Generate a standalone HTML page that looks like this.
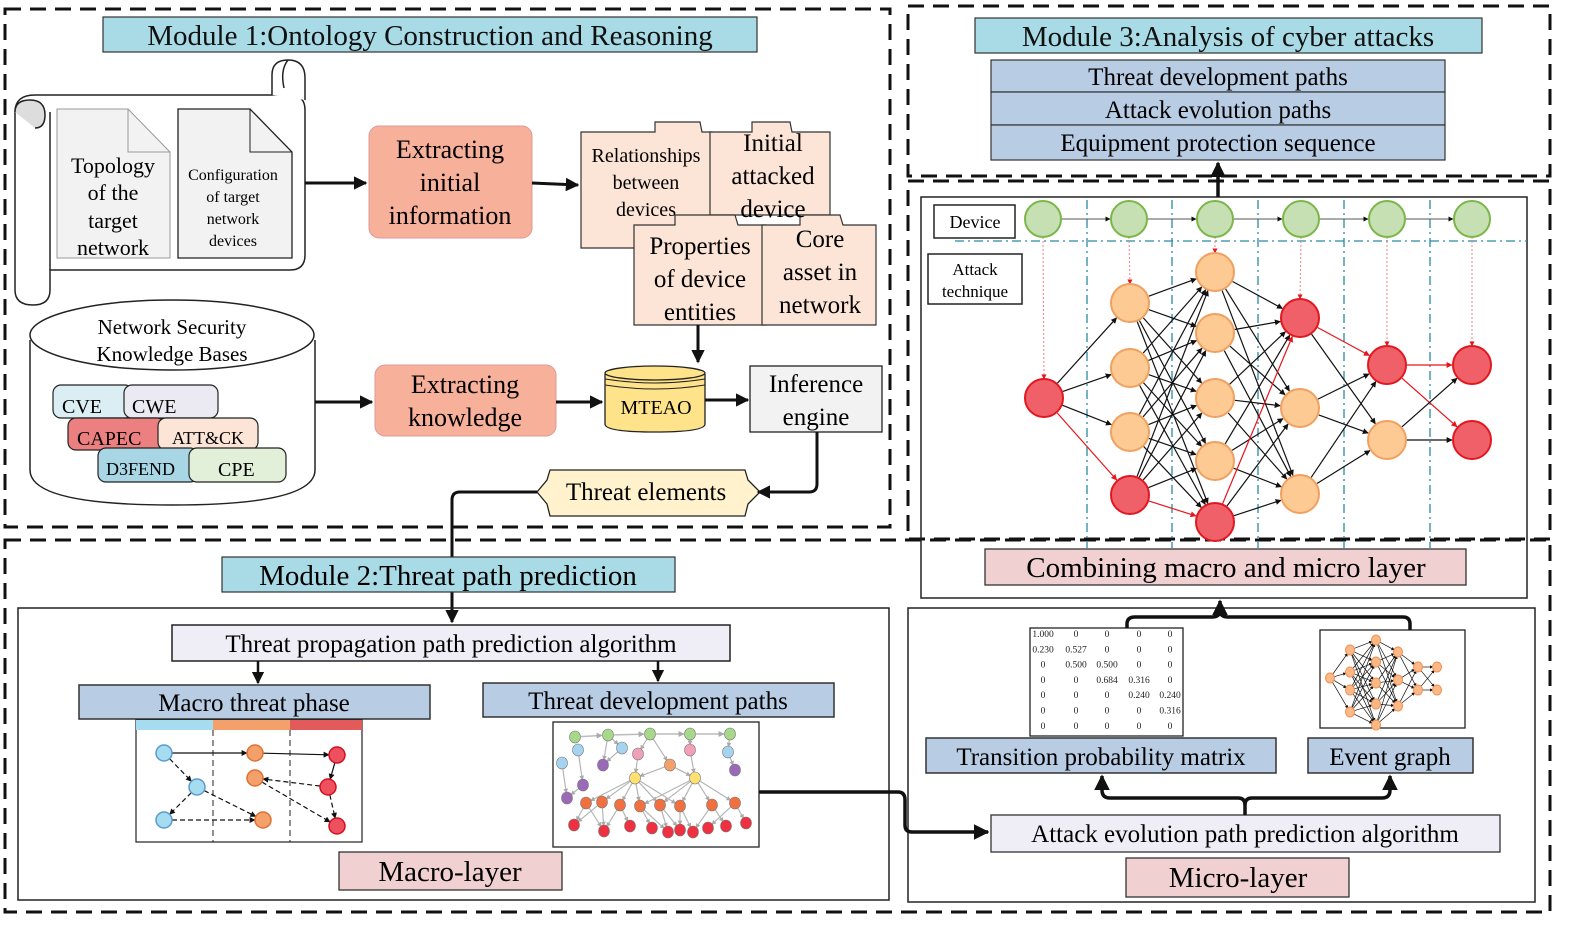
<!DOCTYPE html>
<html><head><meta charset="utf-8"><style>
html,body{margin:0;padding:0;background:#fff;}
svg{display:block;font-family:"Liberation Serif",serif;}
</style></head><body>
<svg id="s" width="1587" height="927" viewBox="0 0 1587 927" xmlns="http://www.w3.org/2000/svg">
<defs>
<marker id="ah" viewBox="0 0 10 10" refX="9" refY="5" markerWidth="4.5" markerHeight="4.5" orient="auto"><path d="M0,0L10,5L0,10z" fill="#111"/></marker>
<marker id="ahs" viewBox="0 0 10 10" refX="9" refY="5" markerWidth="5" markerHeight="5" orient="auto"><path d="M0,0L10,5L0,10z" fill="#111"/></marker>
<marker id="ahr" viewBox="0 0 10 10" refX="9" refY="5" markerWidth="5" markerHeight="5" orient="auto"><path d="M0,0L10,5L0,10z" fill="#e8141c"/></marker>
<marker id="ahg" viewBox="0 0 10 10" refX="9" refY="5" markerWidth="4" markerHeight="4" orient="auto"><path d="M0,0L10,5L0,10z" fill="#aaa"/></marker>
</defs>
<g fill="none" stroke="#111" stroke-width="3" stroke-dasharray="16,9">
<rect x="5" y="9" width="885" height="518"/>
<rect x="908" y="6" width="642" height="170"/>
<rect x="908" y="181" width="642" height="358"/>
<path d="M5,540H1550V912H5Z"/>
</g>
<g stroke="#333" stroke-width="1.2">
<rect x="103" y="17" width="654" height="35" fill="#a9dbe6"/>
<rect x="975" y="18" width="507" height="35" fill="#a9dbe6"/>
</g>
<g font-size="29" text-anchor="middle" fill="#111">
<text x="430" y="45">Module 1:Ontology Construction and Reasoning</text>
<text x="1228" y="46">Module 3:Analysis of cyber attacks</text>
</g>
<g stroke="#333" stroke-width="1.2" fill="#b8cce4">
<rect x="991" y="60" width="454" height="32"/><rect x="991" y="92" width="454" height="33"/><rect x="991" y="125" width="454" height="35"/>
</g>
<g font-size="25" text-anchor="middle"><text x="1218" y="85">Threat development paths</text><text x="1218" y="118">Attack evolution paths</text><text x="1218" y="151">Equipment protection sequence</text></g>
<g stroke="#222" stroke-width="1.5" fill="#fff">
<path d="M35,95 H290 Q305,95 305,110 V255 Q305,270 290,270 H50 V290 Q50,305 33,305 Q15,305 15,290 V112 Q15,95 35,95Z"/>
<path d="M272,95 V75 Q272,60 288,60 Q305,60 305,78 V100"/>
<path d="M288,60 Q280,70 284,88" fill="none"/>
<path d="M15,112 Q15,100 30,100 Q45,100 45,115 Q45,128 35,128" fill="#ddd"/>
<path d="M50,112 V270" fill="none"/>
</g>
<path d="M57,109H128L170,152V258H57Z" fill="#f2f2f2" stroke="#999"/>
<path d="M128,109V152H170" fill="none" stroke="#999"/>
<path d="M178,109H250L292,152V258H178Z" fill="#f2f2f2" stroke="#222" stroke-width="1.3"/>
<path d="M250,109V152H292" fill="none" stroke="#222"/>
<g text-anchor="middle" font-size="22"><text x="113" y="173">Topology</text><text x="113" y="200">of the</text><text x="113" y="228">target</text><text x="113" y="255">network</text></g>
<g text-anchor="middle" font-size="16"><text x="233" y="180">Configuration</text><text x="233" y="202">of target</text><text x="233" y="224">network</text><text x="233" y="246">devices</text></g>
<rect x="369" y="126" width="163" height="112" rx="10" fill="#f7b09a" stroke="#d99" />
<g text-anchor="middle" font-size="26"><text x="450" y="158">Extracting</text><text x="450" y="191">initial</text><text x="450" y="224">information</text></g>
<g stroke="#333" stroke-width="1.2" fill="#fce4d6">
<path d="M581,132H655V122H700L702,132H712V248H581Z"/>
<path d="M710,132H752V122H790L792,132H830V215H710Z"/>
<path d="M634,225H675V215H735L738,225H766V325H634Z"/>
<path d="M762,225H800V215H840L843,225H876V325H762Z"/>
</g>
<g text-anchor="middle"><g font-size="20"><text x="646" y="162">Relationships</text><text x="646" y="189">between</text><text x="646" y="216">devices</text></g>
<g font-size="25"><text x="773" y="151">Initial</text><text x="773" y="184">attacked</text><text x="773" y="217">device</text>
<text x="700" y="254">Properties</text><text x="700" y="287">of device</text><text x="700" y="320">entities</text>
<text x="820" y="247">Core</text><text x="820" y="280">asset in</text><text x="820" y="313">network</text></g></g>
<path d="M30,340 V470 Q30,505 172,505 Q315,505 315,470 V340" fill="#fff" stroke="#222" stroke-width="1.5"/>
<ellipse cx="172" cy="335" rx="142" ry="35" fill="#fff" stroke="#222" stroke-width="1.5"/>
<g text-anchor="middle" font-size="21"><text x="172" y="334">Network Security</text><text x="172" y="361">Knowledge Bases</text></g>
<g stroke="#222" stroke-width="1.2">
<rect x="53" y="385" width="80" height="33" rx="8" fill="#dbeef4"/><rect x="124" y="385" width="94" height="33" rx="8" fill="#ebe9f2"/>
<rect x="68" y="418" width="97" height="32" rx="8" fill="#ec8080"/><rect x="158" y="418" width="100" height="32" rx="8" fill="#fce4d6"/>
<rect x="98" y="448" width="100" height="34" rx="8" fill="#a9d6e5"/><rect x="189" y="448" width="97" height="34" rx="8" fill="#e2efd9"/>
</g>
<g font-size="20"><text x="62" y="413">CVE</text><text x="132" y="413">CWE</text><text x="77" y="445">CAPEC</text><text x="172" y="444" font-size="18">ATT&amp;CK</text><text x="106" y="475" font-size="18">D3FEND</text><text x="218" y="476">CPE</text></g>
<rect x="375" y="365" width="181" height="71" rx="10" fill="#f7b09a" stroke="#d99"/>
<g text-anchor="middle" font-size="26"><text x="465" y="393">Extracting</text><text x="465" y="426">knowledge</text></g>
<path d="M605,374 V424 Q605,432 655,432 Q705,432 705,424 V374" fill="#ffe38a" stroke="#222" stroke-width="1.3"/>
<ellipse cx="655" cy="373" rx="50" ry="7" fill="#ffe38a" stroke="#222" stroke-width="1.3"/>
<path d="M605,379 Q655,387 705,379 M605,385 Q655,393 705,385" fill="none" stroke="#222"/>
<text x="656" y="414" text-anchor="middle" font-size="20">MTEAO</text>
<rect x="750" y="366" width="132" height="66" fill="#f2f2f2" stroke="#222" stroke-width="1.3"/>
<g text-anchor="middle" font-size="25"><text x="816" y="392">Inference</text><text x="816" y="425">engine</text></g>
<path d="M550,470 H745 L748,480 L760,492 L748,504 L745,516 H550 L547,504 L537,492 L547,480Z" fill="#fff2cc" stroke="#222" stroke-width="1.3"/>
<text x="646" y="500" text-anchor="middle" font-size="25">Threat elements</text>
<g stroke="#111" stroke-width="3" fill="none" marker-end="url(#ah)">
<path d="M305,183H366"/><path d="M532,183L578,185"/><path d="M698,325V362"/>
<path d="M315,402H372"/><path d="M556,402H602"/><path d="M705,400H748"/>
<path d="M817,432V484Q817,492 809,492H758"/>
<path d="M537,492H460Q452,492 452,500V622"/>
</g>
<rect x="222" y="557" width="453" height="35" fill="#a9dbe6" stroke="#333" stroke-width="1.2"/>
<text x="448" y="585" font-size="29" text-anchor="middle">Module 2:Threat path prediction</text>
<rect x="18" y="608" width="871" height="292" fill="none" stroke="#222" stroke-width="1.5"/>
<rect x="908" y="608" width="627" height="294" fill="none" stroke="#222" stroke-width="1.5"/>
<rect x="921" y="197" width="606" height="401" fill="none" stroke="#222" stroke-width="1.5"/>
<rect x="172" y="625" width="558" height="36" fill="#efedf5" stroke="#222" stroke-width="1.5"/>
<text x="451" y="652" text-anchor="middle" font-size="25">Threat propagation path prediction algorithm</text>
<g stroke="#111" stroke-width="2.5" fill="none" marker-end="url(#ahs)"><path d="M258,661V683"/><path d="M658,661V681"/></g>
<rect x="79" y="685" width="351" height="34" fill="#b8cce4" stroke="#333" stroke-width="1.5"/>
<rect x="483" y="683" width="351" height="34" fill="#b8cce4" stroke="#333" stroke-width="1.5"/>
<g text-anchor="middle" font-size="25"><text x="254" y="711">Macro threat phase</text><text x="658" y="709">Threat development paths</text></g>
<rect x="339" y="852" width="223" height="38" fill="#f0d0d0" stroke="#333" stroke-width="1.3"/>
<text x="450" y="881" text-anchor="middle" font-size="29">Macro-layer</text>
<rect x="136" y="720" width="226" height="122" fill="#fff" stroke="#222" stroke-width="1.2"/>
<rect x="136" y="720" width="77" height="10" fill="#a6dcf0"/><rect x="213" y="720" width="77" height="10" fill="#f4a06a"/><rect x="290" y="720" width="72" height="10" fill="#e25a5a"/>
<g stroke="#222" stroke-dasharray="6,4"><path d="M213,730V842M290,730V842"/></g>
<g id="mg"></g>
<rect x="553" y="722" width="206" height="125" fill="#fff" stroke="#222" stroke-width="1.3"/>
<g id="tg"></g>
<path d="M759,792H898Q905,792 905,800V825Q905,832 912,832H988" stroke="#111" stroke-width="3.5" fill="none" marker-end="url(#ah)"/>
<rect x="991" y="815" width="509" height="37" fill="#efedf5" stroke="#333" stroke-width="1.3"/>
<text x="1245" y="842" text-anchor="middle" font-size="25">Attack evolution path prediction algorithm</text>
<rect x="1126" y="858" width="223" height="39" fill="#f0d0d0" stroke="#333" stroke-width="1.3"/>
<text x="1238" y="887" text-anchor="middle" font-size="29">Micro-layer</text>
<rect x="926" y="738" width="350" height="35" fill="#b8cce4" stroke="#333" stroke-width="1.5"/>
<rect x="1308" y="738" width="165" height="35" fill="#b8cce4" stroke="#333" stroke-width="1.5"/>
<g text-anchor="middle" font-size="25"><text x="1101" y="765">Transition probability matrix</text><text x="1390" y="765">Event graph</text></g>
<rect x="1030" y="628" width="153" height="108" fill="#fff" stroke="#222" stroke-width="1.3"/>
<g id="mx" font-size="9.5" text-anchor="middle" fill="#222"></g>
<rect x="1320" y="630" width="145" height="98" fill="#fff" stroke="#222" stroke-width="1.3"/>
<g id="eg"></g>
<g stroke="#111" stroke-width="3.5" fill="none">
<path d="M1245,815V805Q1245,798 1238,798H1110Q1102,798 1102,790V776" marker-end="url(#ah)"/>
<path d="M1245,805Q1245,798 1252,798H1382Q1390,798 1390,790V776" marker-end="url(#ah)"/>
<path d="M1127,628V624Q1127,617 1135,617H1212Q1220,617 1220,610V601" marker-end="url(#ah)"/>
<path d="M1220,610Q1220,617 1228,617H1403Q1410,617 1410,624V630"/>
<path d="M1218,197V163" marker-end="url(#ah)"/>
</g>
<g stroke="#2a8aa6" stroke-width="1.3" stroke-dasharray="9,4,2,4" fill="none">
<path d="M955,241H1527"/><path d="M1087,200V548M1172,200V548M1258,200V548M1344,200V548M1430,200V548"/>
</g>
<rect x="934" y="205" width="81" height="33" fill="#fff" stroke="#222" stroke-width="1.5"/>
<text x="975" y="228" text-anchor="middle" font-size="18">Device</text>
<rect x="928" y="254" width="94" height="50" fill="#fff" stroke="#222" stroke-width="1.5"/>
<g text-anchor="middle" font-size="17"><text x="975" y="275">Attack</text><text x="975" y="297">technique</text></g>
<g id="nn"></g>
<rect x="985" y="549" width="481" height="36" fill="#f0d0d0" stroke="#333" stroke-width="1.3"/>
<text x="1226" y="577" text-anchor="middle" font-size="29">Combining macro and micro layer</text>
</svg>
<script>
var NS="http://www.w3.org/2000/svg";
function el(p,t,a){var e=document.createElementNS(NS,t);for(var k in a)e.setAttribute(k,a[k]);document.getElementById(p).appendChild(e);return e;}
function line(p,x1,y1,x2,y2,c,m,w,r,d){var dx=x2-x1,dy=y2-y1,L=Math.sqrt(dx*dx+dy*dy);r=r||0;
var a={x1:x1+dx/L*r,y1:y1+dy/L*r,x2:x2-dx/L*r,y2:y2-dy/L*r,stroke:c,"stroke-width":w||1.3};if(m)a["marker-end"]="url(#"+m+")";if(d)a["stroke-dasharray"]=d;el(p,"line",a);}
var G=[1043,1129,1215,1301,1387,1472];
var OR="#fdca93",ORs="#f0a060",RD="#ef6068",RDs="#e01820",GR="#c6e0b4",GRs="#7ab648";
var C=[[[1044,398,1]],[[1130,303,0],[1130,368,0],[1130,432,0],[1130,495,1]],[[1215,272,0],[1215,333,0],[1215,398,0],[1215,461,0],[1215,522,1]],[[1300,318,1],[1300,408,0],[1300,494,0]],[[1387,365,1],[1387,440,0]],[[1472,365,1],[1472,440,1]]];
for(var i=0;i<5;i++)line("nn",G[i]+19,219,G[i+1]-19,219,"#555","ahs",1);
var tops=[[1044,379],[1130,284],[1215,253],[1300,299],[1387,346],[1472,346]];
for(i=0;i<6;i++)line("nn",G[i],237,tops[i][0],tops[i][1],"#f08080","ahr",1,0,"2,2");
function isRed(a,b){var rr=[[1044,398,1130,495],[1130,495,1215,522],[1215,522,1300,318],[1300,318,1387,365],[1387,365,1472,365],[1387,365,1472,440]];for(var k=0;k<rr.length;k++)if(rr[k][0]==a[0]&&rr[k][1]==a[1]&&rr[k][2]==b[0]&&rr[k][3]==b[1])return true;return false;}
for(i=0;i<5;i++){C[i].forEach(function(a){C[i+1].forEach(function(b){
 var red=isRed(a,b);
 if(i==0&&!red&&b[1]==495)return;
 if(i==4&&!red&&a[1]==365)return;
 line("nn",a[0],a[1],b[0],b[1],red?"#e8141c":"#111",red?"ahr":"ahs",1.2,20);});});}
for(i=0;i<6;i++)el("nn","ellipse",{cx:G[i],cy:219,rx:18,ry:18,fill:GR,stroke:GRs,"stroke-width":2});
C.forEach(function(col){col.forEach(function(n){el("nn","ellipse",{cx:n[0],cy:n[1],rx:19,ry:19,fill:n[2]?RD:OR,stroke:n[2]?RDs:ORs,"stroke-width":2});});});
var mn=[[164,753,"#a6dcf0","#5a9ad0"],[197,787,"#a6dcf0","#5a9ad0"],[164,820,"#a6dcf0","#5a9ad0"],[255,753,"#f4a06a","#e07030"],[255,778,"#f4a06a","#e07030"],[263,820,"#f4a06a","#e07030"],[337,755,"#ee5060","#d01020"],[328,787,"#ee5060","#d01020"],[337,826,"#ee5060","#d01020"]];
var me=[[0,3,0],[3,6,0],[0,1,1],[1,2,1],[1,5,1],[2,5,1],[4,8,1],[7,4,1],[6,7,0],[7,8,1]];
me.forEach(function(e){var a=mn[e[0]],b=mn[e[1]];line("mg",a[0],a[1],b[0],b[1],"#111","ahs",1.2,8,e[2]?"5,3":null);});
mn.forEach(function(n){el("mg","ellipse",{cx:n[0],cy:n[1],rx:8,ry:8,fill:n[2],stroke:n[3],"stroke-width":1.5});});
var tn=[[575,737,"#a8d88a"],[608,735,"#a8d88a"],[650,734,"#a8d88a"],[690,734,"#a8d88a"],[730,734,"#a8d88a"],[622,748,"#a6d4f0"],[562,763,"#a6d4f0"],[578,750,"#a6d4f0"],[603,765,"#9a6ab8"],[638,754,"#f2a0b8"],[690,750,"#f2a0b8"],[728,752,"#a6d4f0"],[670,765,"#f4a06a"],[735,770,"#9a6ab8"],[583,785,"#9a6ab8"],[635,778,"#ffe070"],[695,778,"#ffe070"],[567,798,"#9a6ab8"],[586,803,"#f07040"],[602,802,"#f07040"],[620,805,"#f07040"],[640,806,"#f07040"],[660,805,"#f07040"],[680,806,"#f07040"],[712,805,"#f07040"],[735,803,"#f07040"],[574,825,"#ee3040"],[604,831,"#ee3040"],[630,826,"#ee3040"],[652,828,"#ee3040"],[668,832,"#ee3040"],[680,830,"#ee3040"],[693,832,"#ee3040"],[708,828,"#ee3040"],[726,826,"#ee3040"],[746,823,"#ee3040"]];
for(i=0;i<4;i++)line("tg",tn[i][0],tn[i][1],tn[i+1][0],tn[i+1][1],"#bbb","ahg",1.5,6);
[[15,18],[15,19],[15,20],[15,21],[15,22],[16,22],[16,23],[16,24],[16,25],[12,15],[12,16],[18,26],[19,27],[20,28],[21,29],[22,30],[23,31],[24,32],[25,33],[24,34],[25,35],[20,27],[21,30],[22,31],[6,17],[7,14],[1,8],[2,9],[3,10],[4,11],[11,13],[9,15],[10,16],[5,8],[1,5],[2,12],[14,17],[18,27],[19,26],[23,32],[16,21],[15,23]].forEach(function(e){var a=tn[e[0]],b=tn[e[1]];line("tg",a[0],a[1],b[0],b[1],"#b5b5b5","ahg",1.2,5);});
tn.forEach(function(n){el("tg","ellipse",{cx:n[0],cy:n[1],rx:5.5,ry:6,fill:n[2],stroke:"#777","stroke-width":0.6});});
var M=[["1.000","0","0","0","0"],["0.230","0.527","0","0","0"],["0","0.500","0.500","0","0"],["0","0","0.684","0.316","0"],["0","0","0","0.240","0.240"],["0","0","0","0","0.316"],["0","0","0","0","0"]];
var xs=[1043,1076,1107,1139,1170];
M.forEach(function(r,ri){r.forEach(function(v,ci){var t=el("mx","text",{x:xs[ci],y:637+ri*15.3});t.textContent=v;});});
var ec=[[[1330,678]],[[1350,650],[1350,672],[1350,690],[1350,712]],[[1376,640],[1376,662],[1376,683],[1376,704],[1376,725]],[[1398,652],[1398,680],[1398,706]],[[1418,667],[1418,690]],[[1437,667],[1437,690]]];
for(i=0;i<5;i++)ec[i].forEach(function(a){ec[i+1].forEach(function(b){line("eg",a[0],a[1],b[0],b[1],"#111","ahs",0.7,4);});});
ec.forEach(function(c){c.forEach(function(n){el("eg","ellipse",{cx:n[0],cy:n[1],rx:4.5,ry:5,fill:"#fdb888",stroke:"#f09050","stroke-width":1});});});
</script>
</body></html>
